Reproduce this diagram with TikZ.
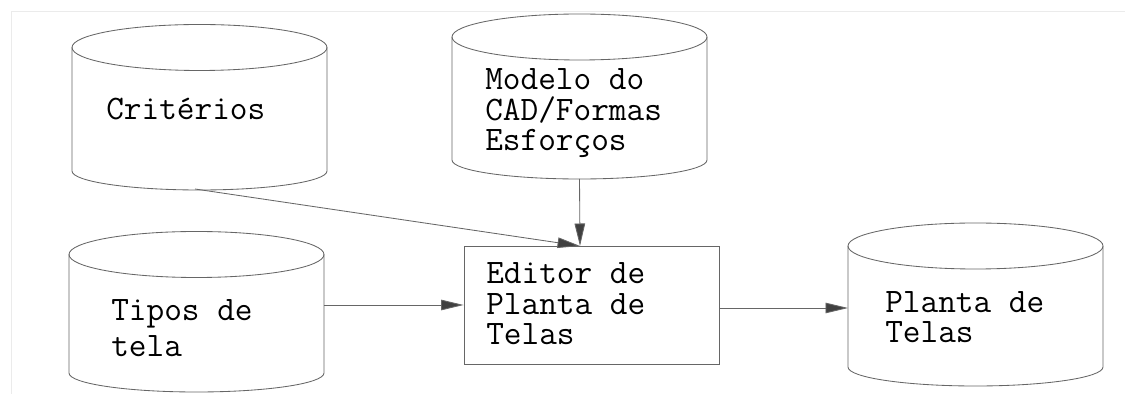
\documentclass[tikz,border=0pt]{standalone}
\usetikzlibrary{arrows.meta}

\tikzset{
  stroke/.style={draw=black!60,line width=0.6pt},
  label/.style={font=\ttfamily\fontsize{24.4pt}{22pt}\selectfont,align=left,anchor=base west,inner sep=0pt},
  flow/.style={stroke,-{Triangle[length=16pt,width=7.5pt,fill=black!75]}},
}
% cylinder: name, centre x, top y, side end y
\newcommand{\dbcyl}[4]{%
  \draw[stroke] (#2,#3) ellipse[x radius=127.5,y radius=23];
  \draw[stroke] (#2-127.5,#3) -- (#2-127.5,#4)
    arc[start angle=180,end angle=360,x radius=127.5,y radius=19] -- (#2+127.5,#3);
  \coordinate (#1-bot) at (#2,#4-19);
  \coordinate (#1-top) at (#2,#3+23);
}

\begin{document}
\begin{tikzpicture}[x=0.025cm,y=0.025cm]
	\useasboundingbox (0,0) rectangle (1125,394);
	\draw[black!8,line width=0.6pt] (11,0) -- (11,383) -- (1125,383);

	\dbcyl{crit}{199.5}{346.5}{223}
	\dbcyl{modelo}{579.5}{357}{234}
	\dbcyl{tipos}{196.5}{139.5}{21}
	\dbcyl{planta}{975.5}{148}{27}

	\node[stroke,minimum width=255*0.025cm,minimum height=118*0.025cm,inner sep=0pt] (editor) at (591.5,89) {};

	% texts, anchored at the baseline of their last line
	\node[label] (crit-txt) at (106,274) {Critérios};
	\node[label] (modelo-txt) at (485,243) {Modelo do\\CAD/Formas\\Esforços};
	\node[label] (editor-txt) at (486,49) {Editor de\\Planta de\\Telas};
	\node[label] (tipos-txt) at (111,37) {Tipos de\\[4pt]tela};
	\node[label] (planta-txt) at (885,51) {Planta de\\Telas};

	\coordinate (editor-in) at (580,148);
	\coordinate (crit-out) at (195,205);
	\coordinate (tipos-out) at (324,89);
	\coordinate (editor-out) at (719,86);
	\coordinate (planta-in) at (848,86);

	\draw[flow] (crit-out) -- (editor-in);
	\draw[flow] (modelo-bot) -- (editor-in);
	\draw[flow] (tipos-out) -- (editor.west);
	\draw[flow] (editor-out) -- (planta-in);
\end{tikzpicture}
\end{document}
